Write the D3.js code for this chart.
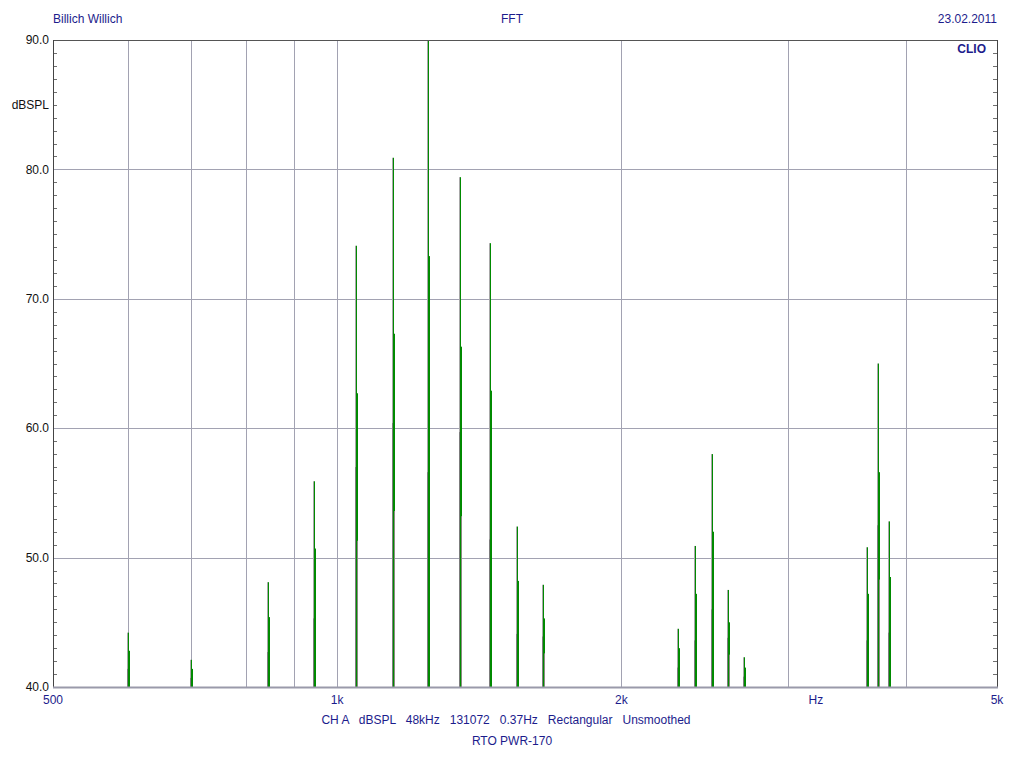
<!DOCTYPE html>
<html>
<head>
<meta charset="utf-8">
<script src="https://cdn.jsdelivr.net/npm/d3@7"></script>
<style>
  html, body { margin: 0; padding: 0; background: #ffffff; }
  svg { display: block; font-family: "Liberation Sans", Arial, sans-serif; }
</style>
</head>
<body>
<svg id="chart" width="1024" height="768"></svg>
<script>
// ---------- data ----------
const peakFreqs = [600, 700, 845, 946, 1047, 1147, 1248, 1349, 1450, 1551, 1652,
                   2294, 2395, 2496, 2597, 2698, 3643, 3744, 3845];
const peakDb    = [44.2, 42.1, 48.1, 55.9, 74.1, 80.9, 90.0, 79.4, 74.3, 52.4, 47.9,
                   44.5, 50.9, 58.0, 47.5, 42.3, 50.8, 65.0, 52.8];
const step1Db   = [42.8, 41.4, 45.4, 50.7, 62.7, 67.3, 73.3, 66.3, 62.9, 48.2, 45.3,
                   43.0, 47.2, 52.0, 45.0, 41.5, 47.2, 56.6, 48.5];
const step2Db   = [41.4, 40.7, 42.7, 45.3, 57.0, 60.4, 56.6, 59.7, 51.4, 44.1, 43.9,
                   41.5, 43.6, 46.0, 43.8, 40.8, 43.6, 52.5, 44.2];
const step3Db   = [null, null, null, null, 51.3, 53.6, null, 53.2, null, null, 42.6,
                   null, null, null, 42.5, null, null, 48.3, null];

const xGridFreqs = [600, 700, 800, 900, 1000, 2000, 3000, 4000];
const xLabelFreqs = [500, 1000, 2000, 3215, 5000];
const xLabelTexts = ["500", "1k", "2k", "Hz", "5k"];
const yGridDb = [50, 60, 70, 80];
const yLabelDb = [90, 85, 80, 70, 60, 50, 40];
const yLabelTexts = ["90.0", "dBSPL", "80.0", "70.0", "60.0", "50.0", "40.0"];
const yMinorDb = d3.range(41, 90, 1);

const titleLeft = "Billich Willich";
const titleCenter = "FFT";
const titleRight = "23.02.2011";
const brand = "CLIO";
const footer1 = "CH A   dBSPL   48kHz   131072   0.37Hz   Rectangular   Unsmoothed";
const footer2 = "RTO PWR-170";

// ---------- layout ----------
const L = 53, R = 997, T = 40, B = 687;
const navy = "#1c1c8c";
const green = "#008a00";
const gridCol = "#a2a2b2";

const svg = d3.select("#chart");
const x = d3.scaleLog().domain([500, 5000]).range([L, R]);
const y = d3.scaleLinear().domain([40, 90]).range([B, T]);

svg.append("defs").append("clipPath").attr("id", "plotclip")
  .append("rect").attr("x", L).attr("y", T).attr("width", R - L).attr("height", B - T);

// grid
svg.append("g").selectAll("line").data(xGridFreqs).join("line")
  .attr("x1", d => Math.round(x(d)) + 0.5).attr("x2", d => Math.round(x(d)) + 0.5)
  .attr("y1", T).attr("y2", B)
  .attr("stroke", gridCol).attr("stroke-width", 1);
svg.append("g").selectAll("line").data(yGridDb).join("line")
  .attr("x1", L).attr("x2", R)
  .attr("y1", d => Math.round(y(d)) + 0.5).attr("y2", d => Math.round(y(d)) + 0.5)
  .attr("stroke", gridCol).attr("stroke-width", 1);

// minor ticks (left & right, inward)
svg.append("g").selectAll("line").data(yMinorDb.filter(d => d % 10 !== 0)).join("line")
  .attr("x1", L).attr("x2", L + 4)
  .attr("y1", d => Math.round(y(d)) + 0.5).attr("y2", d => Math.round(y(d)) + 0.5)
  .attr("stroke", "#707070");
svg.append("g").selectAll("line").data(yMinorDb.filter(d => d % 10 !== 0)).join("line")
  .attr("x1", R - 4).attr("x2", R)
  .attr("y1", d => Math.round(y(d)) + 0.5).attr("y2", d => Math.round(y(d)) + 0.5)
  .attr("stroke", "#707070");

// spikes
const peaks = peakFreqs.map((f, i) => ({f, p: peakDb[i], s1: step1Db[i], s2: step2Db[i], s3: step3Db[i]}));
const gp = svg.append("g").attr("clip-path", "url(#plotclip)");
function vline(g, xpos, db, col, w) {
  g.append("line")
    .attr("x1", xpos).attr("x2", xpos)
    .attr("y1", y(40)).attr("y2", y(db))
    .attr("stroke", col).attr("stroke-width", w);
}
peaks.forEach(d => {
  const cx = Math.round(x(d.f)) + 0.5;
  vline(gp, cx - 1, d.p, "#a8a8a8", 1);
  vline(gp, cx, d.p, green, 1);
  vline(gp, cx + 1, d.s1, green, 1);
  vline(gp, cx - 1, d.s2, "#7c7c7c", 1);
  if (d.s3 !== null) vline(gp, cx + 1, d.s3, "#8a8a80", 1);
});

// frame
svg.append("line").attr("x1", L).attr("x2", R).attr("y1", T + 0.5).attr("y2", T + 0.5)
  .attr("stroke", "#555555");
svg.append("line").attr("x1", L + 0.5).attr("x2", L + 0.5).attr("y1", T).attr("y2", B)
  .attr("stroke", "#444444");
svg.append("line").attr("x1", R + 0.5).attr("x2", R + 0.5).attr("y1", T).attr("y2", B)
  .attr("stroke", "#444444");
svg.append("line").attr("x1", L).attr("x2", R + 1).attr("y1", B + 0.5).attr("y2", B + 0.5)
  .attr("stroke", "#9a9aaa").attr("stroke-width", 2);

// y labels
svg.append("g").selectAll("text").data(yLabelDb).join("text")
  .attr("x", L - 4).attr("y", d => y(d))
  .attr("dy", "0.35em").attr("text-anchor", "end")
  .attr("font-size", 12).attr("fill", "#111")
  .text((d, i) => yLabelTexts[i]);

// x labels
svg.append("g").selectAll("text").data(xLabelFreqs).join("text")
  .attr("x", d => x(d)).attr("y", 700)
  .attr("dy", "0.35em").attr("text-anchor", "middle")
  .attr("font-size", 12).attr("fill", navy)
  .text((d, i) => xLabelTexts[i]);

// titles
svg.append("text").attr("x", L).attr("y", 19).attr("dy", "0.35em")
  .attr("font-size", 12).attr("fill", navy).text(titleLeft);
svg.append("text").attr("x", 512).attr("y", 19).attr("dy", "0.35em")
  .attr("text-anchor", "middle").attr("font-size", 12).attr("fill", navy).text(titleCenter);
svg.append("text").attr("x", R).attr("y", 19).attr("dy", "0.35em")
  .attr("text-anchor", "end").attr("font-size", 12).attr("fill", navy).text(titleRight);
svg.append("text").attr("x", R - 11).attr("y", 49).attr("dy", "0.35em")
  .attr("text-anchor", "end").attr("font-size", 12).attr("font-weight", "bold")
  .attr("fill", navy).text(brand);

svg.append("text").attr("x", 506).attr("y", 720).attr("dy", "0.35em")
  .attr("text-anchor", "middle").attr("font-size", 12).attr("fill", navy)
  .style("white-space", "pre").text(footer1);
svg.append("text").attr("x", 512).attr("y", 741).attr("dy", "0.35em")
  .attr("text-anchor", "middle").attr("font-size", 12).attr("fill", navy)
  .text(footer2);
</script>
</body>
</html>
